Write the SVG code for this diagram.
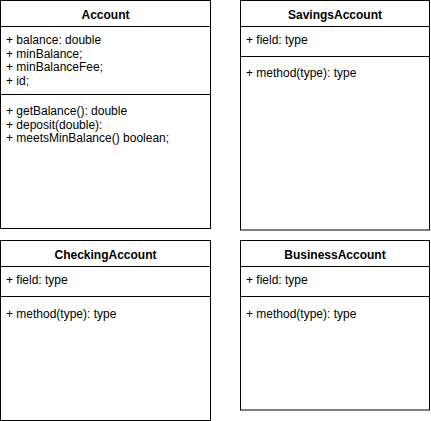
<svg xmlns="http://www.w3.org/2000/svg" width="431" height="421" viewBox="0 0 431 421">
<style>
.box{fill:#ffffff;stroke:#000000;stroke-width:1}
.ln{stroke:#000000;stroke-width:1;fill:none}
.t{font-family:"Liberation Sans",Arial,Helvetica,sans-serif;font-size:12px;fill:#000000}
.h{font-family:"Liberation Sans",Arial,Helvetica,sans-serif;font-size:12px;font-weight:bold;fill:#000000;text-anchor:middle}
</style>
<rect width="431" height="421" fill="#ffffff"/>
<g id="Account">
<rect class="box" x="0.5" y="0.5" width="210" height="228"/>
<line class="ln" x1="0.5" y1="26.5" x2="210.5" y2="26.5"/>
<line class="ln" x1="0.5" y1="94.5" x2="210.5" y2="94.5"/>
<text class="h" x="105.5" y="19">Account</text>
<text class="t" x="6" y="44">+ balance: double</text>
<text class="t" x="6" y="57.7">+ minBalance;</text>
<text class="t" x="6" y="71.4">+ minBalanceFee;</text>
<text class="t" x="6" y="85.1">+ id;</text>
<text class="t" x="6" y="115">+ getBalance(): double</text>
<text class="t" x="6" y="128.7">+ deposit(double):</text>
<text class="t" x="6" y="142.4">+ meetsMinBalance() boolean;</text>
</g>
<g id="SavingsAccount">
<rect class="box" x="240.5" y="0.5" width="189" height="229.5"/>
<line class="ln" x1="240.5" y1="26.5" x2="429.5" y2="26.5"/>
<line class="ln" x1="240.5" y1="56.5" x2="429.5" y2="56.5"/>
<text class="h" x="335" y="19">SavingsAccount</text>
<text class="t" x="246" y="44">+ field: type</text>
<text class="t" x="246" y="76.5">+ method(type): type</text>
</g>
<g id="CheckingAccount">
<rect class="box" x="0.5" y="240.5" width="210" height="180"/>
<line class="ln" x1="0.5" y1="266.5" x2="210.5" y2="266.5"/>
<line class="ln" x1="0.5" y1="296.5" x2="210.5" y2="296.5"/>
<text class="h" x="105.5" y="259">CheckingAccount</text>
<text class="t" x="6" y="284">+ field: type</text>
<text class="t" x="6" y="317.5">+ method(type): type</text>
</g>
<g id="BusinessAccount">
<rect class="box" x="240.5" y="240.5" width="189" height="169.5"/>
<line class="ln" x1="240.5" y1="266.5" x2="429.5" y2="266.5"/>
<line class="ln" x1="240.5" y1="296.5" x2="429.5" y2="296.5"/>
<text class="h" x="335" y="259">BusinessAccount</text>
<text class="t" x="246" y="284">+ field: type</text>
<text class="t" x="246" y="317.5">+ method(type): type</text>
</g>
<g id="connectors"></g>
</svg>
